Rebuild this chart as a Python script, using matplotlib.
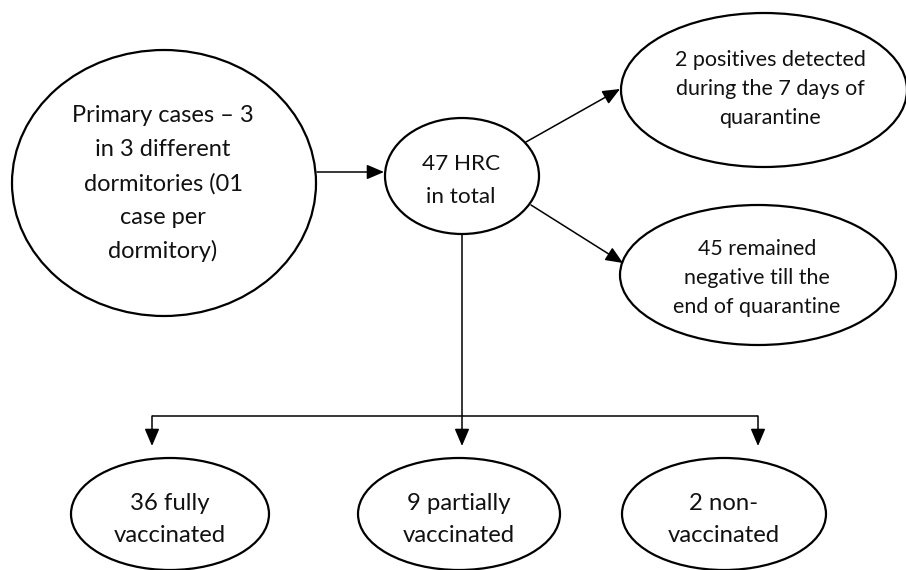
import matplotlib
matplotlib.use("Agg")
import matplotlib.pyplot as plt
from matplotlib.patches import Ellipse, FancyArrowPatch

plt.rcParams['font.family'] = ['Lato', 'DejaVu Sans']

# ---- content ----
node_labels = [
    "Primary cases \u2013 3\nin 3 different\ndormitories (01\ncase per\ndormitory)",
    "47 HRC\nin total",
    "2 positives detected\nduring the 7 days of\nquarantine",
    "45 remained\nnegative till the\nend of quarantine",
    "36 fully\nvaccinated",
    "9 partially\nvaccinated",
    "2 non-\nvaccinated",
]

# ---- layout (pixel coordinates, y downward) ----
node_cx = [164, 462, 764, 758, 170, 459, 724]
node_cy = [183, 176, 90, 275, 514, 514, 514]
node_rx = [152, 77, 143, 138, 99, 101, 102]
node_ry = [133, 58, 77, 70, 56, 56, 56]
text_cx = [163, 461, 770, 757, 170, 459, 724]
text_cy = [182, 178, 87, 276, 517, 517, 517]
line_step = [34, 33, 29, 29, 32, 32, 32]
font_pt = [17, 16.2, 15.5, 15.4, 17.2, 17.2, 17.2]

W, H = 906, 570
fig = plt.figure(figsize=(W / 100, H / 100), dpi=100)
ax = fig.add_axes([0, 0, 1, 1])
ax.set_xlim(0, W)
ax.set_ylim(H, 0)
ax.axis('off')

for i, lab in enumerate(node_labels):
    ax.add_patch(Ellipse((node_cx[i], node_cy[i]), 2 * node_rx[i], 2 * node_ry[i],
                         facecolor='white', edgecolor='black', lw=1.6, zorder=2))
    lines = lab.split("\n")
    n = len(lines)
    fs_px = font_pt[i] * 100 / 72
    for j, ln in enumerate(lines):
        yc = text_cy[i] + (j - (n - 1) / 2) * line_step[i]
        ax.text(text_cx[i], yc + 0.36 * fs_px, ln, ha='center', va='baseline',
                fontsize=font_pt[i], color='#111111', zorder=3)


def arrow(p0, p1):
    ax.add_patch(FancyArrowPatch(p0, p1, arrowstyle='-|>,head_length=0.75,head_width=0.32',
                                 mutation_scale=14, color='black', lw=1.1,
                                 shrinkA=0, shrinkB=0, zorder=1))


def line(xs, ys):
    ax.plot(xs, ys, color='black', lw=1.1, zorder=1, solid_capstyle='butt')


# primary -> HRC
arrow((317, 172), (384, 172))
# HRC -> outcomes
arrow((526, 142), (620, 89))
arrow((531, 205), (623, 263))
# HRC -> vaccination split
bar_y = 416
tip_y = 446
line([462, 462], [235, bar_y])
line([152, 758], [bar_y, bar_y])
for x in (152, 462, 758):
    arrow((x, bar_y), (x, tip_y))

fig.savefig("out.png", dpi=100, facecolor='white')
